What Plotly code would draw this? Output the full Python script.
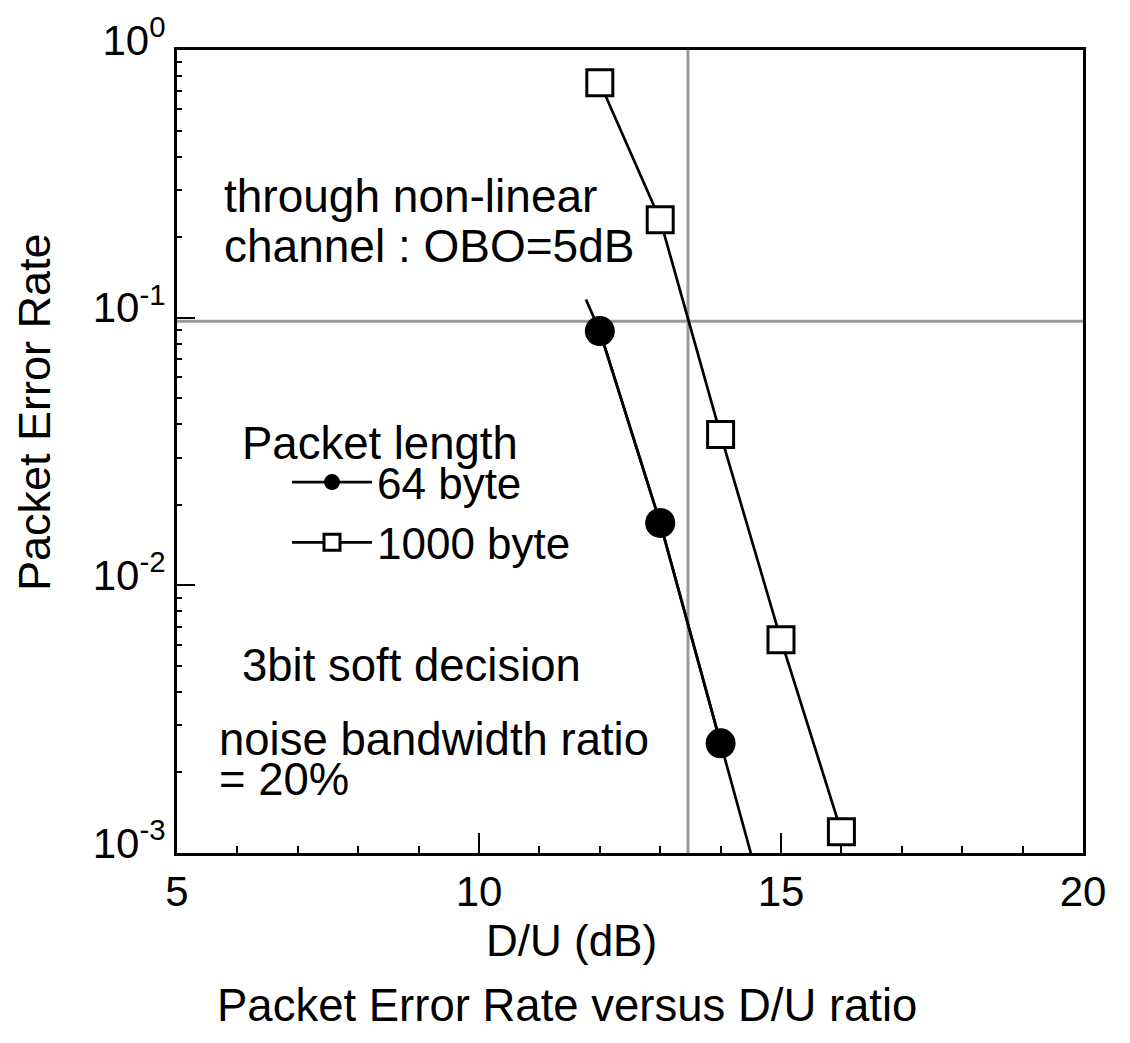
import plotly.graph_objects as go

# ---- data ----
du_64 = [12, 13, 14]
per_64 = [0.0891, 0.0171, 0.00257]
# fitted line for 64 byte extends beyond the measured points
du_64_line = [11.77, 12, 13, 14, 14.5]
per_64_line = [0.117, 0.0891, 0.0171, 0.00257, 0.001]

du_1000 = [12, 13, 14, 15, 16]
per_1000 = [0.755, 0.232, 0.0366, 0.00626, 0.00120]

ref_du = 13.46      # vertical reference line (dB)
ref_per = 0.097     # horizontal reference line (PER)

x_ticks = [5, 10, 15, 20]
y_ticks = [1e-3, 1e-2, 1e-1, 1]
y_ticktext = ["10<sup>-3</sup>", "10<sup>-2</sup>", "10<sup>-1</sup>", "10<sup>0</sup>"]
y_minor = [m * 10 ** e for e in (-3, -2, -1) for m in range(2, 10)]

FONT = "Liberation Sans, Arial, sans-serif"
OFF = 8                      # page body margin
W, H = 1130 - OFF, 1043 - OFF
# target plot frame in page pixels: left 177, right 1083, top 50, bottom 853
L, R, T, B = 177 - OFF, 1130 - 1083, 50 - OFF, 1043 - 853
PW, PH = W - L - R, H - T - B


def px(xp):
    return (xp - OFF - L) / PW


def py(yp):
    return (H - B - (yp - OFF)) / PH


fig = go.Figure()

fig.add_trace(go.Scatter(
    x=du_64_line, y=per_64_line, mode="lines",
    line=dict(color="black", width=2.7), showlegend=False, hoverinfo="skip"))
fig.add_trace(go.Scatter(
    x=du_64, y=per_64, mode="lines+markers", name="64 byte",
    line=dict(color="black", width=2.7),
    marker=dict(symbol="circle", size=30, color="black", line=dict(color="black", width=0))))
fig.add_trace(go.Scatter(
    x=du_1000, y=per_1000, mode="lines+markers", name="1000 byte",
    line=dict(color="black", width=2.7),
    marker=dict(symbol="square", size=26, color="white", line=dict(color="black", width=3))))

fig.add_shape(type="line", xref="x", yref="y domain", x0=ref_du, x1=ref_du, y0=0, y1=1,
              line=dict(color="#9a9a9a", width=3), layer="below")
fig.add_shape(type="line", xref="x domain", yref="y", x0=0, x1=1, y0=ref_per, y1=ref_per,
              line=dict(color="#9a9a9a", width=3), layer="below")

annots = [
    ("through non-linear", 222, 196, "left", 0, 46),
    ("channel : OBO=5dB", 222, 246, "left", 0, 46),
    ("Packet length", 240, 444, "left", 0, 45.5),
    ("3bit soft decision", 240, 665, "left", 0, 45.5),
    ("noise bandwidth ratio", 217, 739, "left", 0, 45.5),
    ("= 20%", 217, 779, "left", 0, 45.5),
    ("D/U (dB)", 571, 940, "center", 0, 44),
    ("Packet Error Rate versus D/U ratio", 567, 1005, "center", 0, 45.5),
    ("Packet Error Rate", 34, 412, "center", -90, 45),
]
for text, xp, yp, anchor, ang, fs in annots:
    fig.add_annotation(text=text, xref="paper", yref="paper", x=px(xp), y=py(yp),
                       xanchor=anchor, yanchor="middle", showarrow=False, textangle=ang,
                       font=dict(size=fs, color="black", family=FONT))

fig.update_xaxes(
    range=[5, 20], tickmode="array", tickvals=x_ticks,
    ticks="inside", ticklen=20, tickwidth=2, tickcolor="black",
    minor=dict(ticks="inside", dtick=1, ticklen=7, tickwidth=2, tickcolor="black", showgrid=False),
    showline=True, linewidth=3, linecolor="black", mirror=True,
    showgrid=False, zeroline=False, automargin=False,
    tickfont=dict(size=42, color="black", family=FONT))
fig.update_yaxes(
    type="log", range=[-3, 0], tickmode="array", tickvals=y_ticks, ticktext=y_ticktext,
    ticks="inside", ticklen=18, tickwidth=2, tickcolor="black",
    minor=dict(ticks="inside", tickmode="array", tickvals=y_minor, ticklen=5, tickwidth=2,
               tickcolor="black", showgrid=False),
    showline=True, linewidth=3, linecolor="black", mirror=True,
    showgrid=False, zeroline=False, ticklabelshift=-10, automargin=False,
    tickfont=dict(size=42, color="black", family=FONT))

fig.update_layout(
    width=W, height=H, margin=dict(l=L, r=R, t=T, b=B, autoexpand=False),
    paper_bgcolor="white", plot_bgcolor="white",
    font=dict(family=FONT, color="black"),
    showlegend=True,
    legend=dict(x=px(287), y=py(447), xanchor="left", yanchor="top",
                bgcolor="rgba(0,0,0,0)", borderwidth=0,
                font=dict(size=44, color="black", family=FONT),
                tracegroupgap=0, itemwidth=80),
)

fig.write_html("out.html")
